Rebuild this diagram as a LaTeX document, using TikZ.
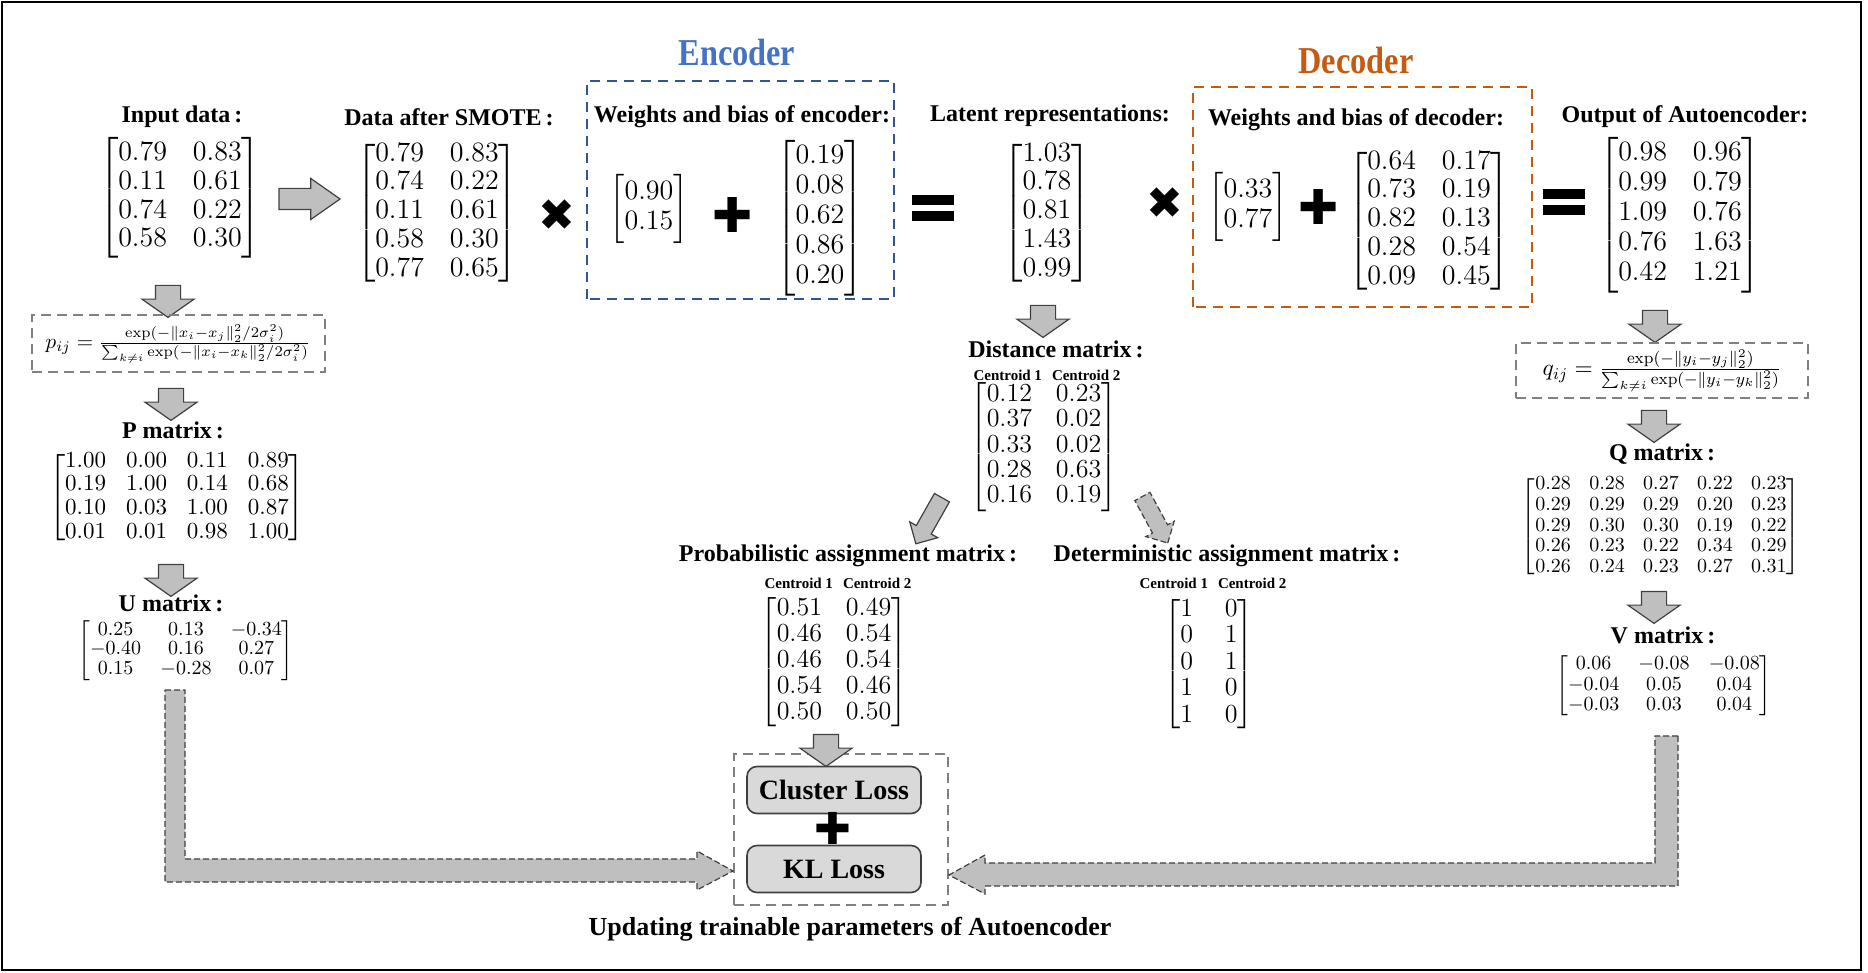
\documentclass[tikz,border=0pt]{standalone}
\usepackage{fix-cm}
\usepackage{amsmath}
\usepackage[no-math]{fontspec}
\setmainfont{Liberation Serif}
\newfontfamily\symfont{DejaVu Sans}
\usetikzlibrary{shapes.arrows,calc}

\definecolor{arrfill}{HTML}{BFBFBF}
\definecolor{arrline}{HTML}{404040}
\definecolor{encblue}{HTML}{4472C4}
\definecolor{encline}{HTML}{2F5597}
\definecolor{decorange}{HTML}{C55A11}
\definecolor{boxgray}{HTML}{808080}
\definecolor{lossfill}{HTML}{D9D9D9}

% matrix: column sep, row stretch, rows
\newcommand{\mtx}[3]{$\setlength{\arraycolsep}{#1}\renewcommand{\arraystretch}{#2}\begin{bmatrix}#3\end{bmatrix}$}

\tikzset{
  ttl/.style={font=\bfseries\fontsize{12}{14}\selectfont, inner sep=1pt},
  ctr/.style={font=\bfseries\fontsize{7.5}{9}\selectfont, inner sep=1pt},
  mat/.style={inner sep=0pt},
  xop/.style={font=\symfont\fontsize{22}{22}\selectfont, inner sep=0pt},
  eqs/.style={minimum width=21pt, minimum height=12.8pt, inner sep=0pt,
    path picture={
      \fill (path picture bounding box.north west) rectangle ([yshift=-4.8pt]path picture bounding box.north east);
      \fill ([yshift=4.8pt]path picture bounding box.south west) rectangle (path picture bounding box.south east);}},
  blk/.style={single arrow, draw=arrline, fill=arrfill, line width=0.6pt, inner xsep=0pt},
  darr/.style={blk, inner ysep=6pt, single arrow head extend=6.75pt, minimum height=16pt,
    single arrow tip angle=110, rotate=-90},
  rarr/.style={blk, inner ysep=5pt, single arrow head extend=5pt, minimum height=30.5pt,
    single arrow tip angle=70},
  sarr/.style={blk, inner ysep=4pt, single arrow head extend=3.75pt, minimum height=26.5pt,
    single arrow tip angle=90},
  gbox/.style={draw=boxgray, dash pattern=on 5pt off 3pt, line width=1pt},
  lossbtn/.style={draw=arrline, fill=lossfill, rounded corners=5pt, line width=0.8pt,
    minimum width=87pt, minimum height=23.5pt, font=\bfseries\fontsize{14}{16}\selectfont},
  larr/.style={draw=arrline, fill=arrfill, dash pattern=on 3pt off 1.5pt, line width=0.6pt}
}

\begin{document}
\begin{tikzpicture}[x=0.5pt,y=0.5pt]
    \useasboundingbox (0,0) rectangle (1868,973);
    \draw[line width=1pt] (2,3) rectangle (1861,971);

    % encoder and decoder frames
    \draw[draw=encline, line width=1.2pt, dash pattern=on 5pt off 3.5pt] (587,674) rectangle (894,892);
    \draw[draw=decorange, line width=1.2pt, dash pattern=on 5pt off 3.5pt] (1193,666) rectangle (1532,886);
    \node[font=\bfseries\fontsize{19}{22}\selectfont, text=encblue, xscale=0.85, inner sep=1pt] (enct) at (737,920) {Encoder};
    \node[font=\bfseries\fontsize{19}{22}\selectfont, text=decorange, xscale=0.85, inner sep=1pt] (dect) at (1356,912) {Decoder};

    % top row
    \node[ttl] (int) at (182,856) {Input data\,:};
    \node[ttl] (smt) at (449,856) {Data after SMOTE\,:};
    \node[ttl] (ewt) at (742,856) {Weights and bias of encoder:};
    \node[ttl] (lat) at (1050,857) {Latent representations:};
    \node[ttl] (dwt) at (1356,853) {Weights and bias of decoder:};
    \node[ttl] (outt) at (1685,856) {Output of Autoencoder:};

    \node[mat, font=\fontsize{14}{15}\selectfont] (inmat) at (180,775)
        {\mtx{6.5pt}{0.96}{0.79 & 0.83\\ 0.11 & 0.61\\ 0.74 & 0.22\\ 0.58 & 0.30}};
    \node[rarr] (a0) at (302,774) {};
    \node[mat, font=\fontsize{14}{15}\selectfont] (smote) at (437,760)
        {\mtx{6.5pt}{0.96}{0.79 & 0.83\\ 0.74 & 0.22\\ 0.11 & 0.61\\ 0.58 & 0.30\\ 0.77 & 0.65}};
    \node[xop] (x1) at (557,758) {✖};
    \node[mat, font=\fontsize{14}{15}\selectfont] (encw) at (649,764)
        {\mtx{6.5pt}{1}{0.90\\ 0.15}};
    \node[xop, font=\symfont\fontsize{24}{24}\selectfont] (p1) at (733,758) {✚};
    \node[mat, font=\fontsize{14}{15}\selectfont] (encb) at (820,755)
        {\mtx{6.5pt}{1}{0.19\\ 0.08\\ 0.62\\ 0.86\\ 0.20}};
    \node[eqs] (eq1) at (933,765) {};
    \node[mat, font=\fontsize{14}{15}\selectfont] (latent) at (1047,760)
        {\mtx{6.5pt}{0.96}{1.03\\ 0.78\\ 0.81\\ 1.43\\ 0.99}};
    \node[xop] (x2) at (1165,770) {✖};
    \node[mat, font=\fontsize{14}{15}\selectfont] (decw) at (1248,766)
        {\mtx{6.5pt}{1}{0.33\\ 0.77}};
    \node[xop, font=\symfont\fontsize{24}{24}\selectfont] (p2) at (1319,766) {✚};
    \node[mat, font=\fontsize{14}{15}\selectfont] (decb) at (1429,752)
        {\mtx{6.5pt}{0.96}{0.64 & 0.17\\ 0.73 & 0.19\\ 0.82 & 0.13\\ 0.28 & 0.54\\ 0.09 & 0.45}};
    \node[eqs] (eq2) at (1564,771) {};
    \node[mat, font=\fontsize{14}{15}\selectfont] (outmat) at (1680,758)
        {\mtx{6.5pt}{1}{0.98 & 0.96\\ 0.99 & 0.79\\ 1.09 & 0.76\\ 0.76 & 1.63\\ 0.42 & 1.21}};

    % left column
    \node[darr] (a1) at (168,676) {};
    \node[gbox, minimum width=146.5pt, minimum height=28.5pt, font=\fontsize{10.5}{12}\selectfont] (pform) at (178,629)
        {$p_{ij}=\frac{\exp(-\|x_i-x_j\|_2^2/2\sigma_i^2)}{\sum_{k\neq i}\exp(-\|x_i-x_k\|_2^2/2\sigma_i^2)}$};
    \node[darr] (a2) at (171,573) {};
    \node[ttl] (ptl) at (173,543) {P matrix\,:};
    \node[mat, font=\fontsize{11.5}{13}\selectfont] (pmat) at (177,475)
        {\mtx{5pt}{0.91}{1.00 & 0.00 & 0.11 & 0.89\\ 0.19 & 1.00 & 0.14 & 0.68\\ 0.10 & 0.03 & 1.00 & 0.87\\ 0.01 & 0.01 & 0.98 & 1.00}};
    \node[darr] (a3) at (171,397) {};
    \node[ttl] (utl) at (171,370) {U matrix\,:};
    \node[mat, font=\fontsize{10}{12}\selectfont] (umat) at (186,322)
        {\mtx{4.8pt}{0.83}{0.25 & 0.13 & -0.34\\ -0.40 & 0.16 & 0.27\\ 0.15 & -0.28 & 0.07}};

    % centre column
    \node[darr] (a4) at (1043,656) {};
    \node[ttl] (dtl) at (1056,624) {Distance matrix\,:};
    \node[ctr] (dctr) at (1047,598) {Centroid 1\hspace{5pt}Centroid 2};
    \node[mat, font=\fontsize{13}{14}\selectfont] (dmat) at (1044,526)
        {\mtx{6pt}{0.9}{0.12 & 0.23\\ 0.37 & 0.02\\ 0.33 & 0.02\\ 0.28 & 0.63\\ 0.16 & 0.19}};
    \node[sarr, rotate=240.5] (a5) at (931,456) {};
    \node[sarr, rotate=-61.4, dash pattern=on 3pt off 1.5pt] (a6) at (1153,457) {};
    \node[ttl] (prt) at (848,417) {Probabilistic assignment matrix\,:};
    \node[ttl] (det) at (1227,417) {Deterministic assignment matrix\,:};
    \node[ctr] (pctr) at (838,390) {Centroid 1\hspace{5pt}Centroid 2};
    \node[ctr] (dtctr) at (1213,390) {Centroid 1\hspace{5pt}Centroid 2};
    \node[mat, font=\fontsize{13}{14}\selectfont] (probmat) at (834,311)
        {\mtx{6pt}{0.93}{0.51 & 0.49\\ 0.46 & 0.54\\ 0.46 & 0.54\\ 0.54 & 0.46\\ 0.50 & 0.50}};
    \node[mat, font=\fontsize{13}{14}\selectfont] (detmat) at (1209,309)
        {\mtx{8pt}{0.95}{1 & 0\\ 0 & 1\\ 0 & 1\\ 1 & 0\\ 1 & 0}};

    % losses
    \node[gbox, minimum width=107pt, minimum height=75.5pt] (lossbox) at (841,143) {};
    \node[darr] (a7) at (826,227) {};
    \node[lossbtn] (closs) at (834,183) {Cluster Loss};
    \node[xop] (p3) at (833,145) {✚};
    \node[lossbtn] (klloss) at (834,104) {KL Loss};
    \node[font=\bfseries\fontsize{13}{15}\selectfont, inner sep=1pt] (upd) at (850,44) {Updating trainable parameters of Autoencoder};

    % right column
    \node[darr] (a8) at (1655,651) {};
    \node[gbox, minimum width=146pt, minimum height=27.5pt, font=\fontsize{11.7}{13}\selectfont] (qform) at (1662,602)
        {$q_{ij}=\frac{\exp(-\|y_i-y_j\|_2^2)}{\sum_{k\neq i}\exp(-\|y_i-y_k\|_2^2)}$};
    \node[darr] (a9) at (1654,551) {};
    \node[ttl] (qtl) at (1662,519) {Q matrix\,:};
    \node[mat, font=\fontsize{10}{12}\selectfont] (qmat) at (1661,446)
        {\mtx{4.6pt}{0.86}{0.28 & 0.28 & 0.27 & 0.22 & 0.23\\ 0.29 & 0.29 & 0.29 & 0.20 & 0.23\\ 0.29 & 0.30 & 0.30 & 0.19 & 0.22\\ 0.26 & 0.23 & 0.22 & 0.34 & 0.29\\ 0.26 & 0.24 & 0.23 & 0.27 & 0.31}};
    \node[darr] (a10) at (1654,370) {};
    \node[ttl] (vtl) at (1663,338) {V matrix\,:};
    \node[mat, font=\fontsize{10}{12}\selectfont] (vmat) at (1664,287)
        {\mtx{4.8pt}{0.86}{0.06 & -0.08 & -0.08\\ -0.04 & 0.05 & 0.04\\ -0.03 & 0.03 & 0.04}};

    % feedback arrows into the losses
    \draw[larr] (165,283) -- (185,283) -- (185,114) -- (697,114) -- (697,122)
        -- (lossbox.west |- 0,102) -- (697,83) -- (697,91) -- (165,91) -- cycle;
    \draw[larr] (1678,237) -- (1655,237) -- (1655,110) -- (985,110) -- (985,118)
        -- (lossbox.east |- 0,98) -- (985,79) -- (985,87) -- (1678,87) -- cycle;
\end{tikzpicture}
\end{document}
